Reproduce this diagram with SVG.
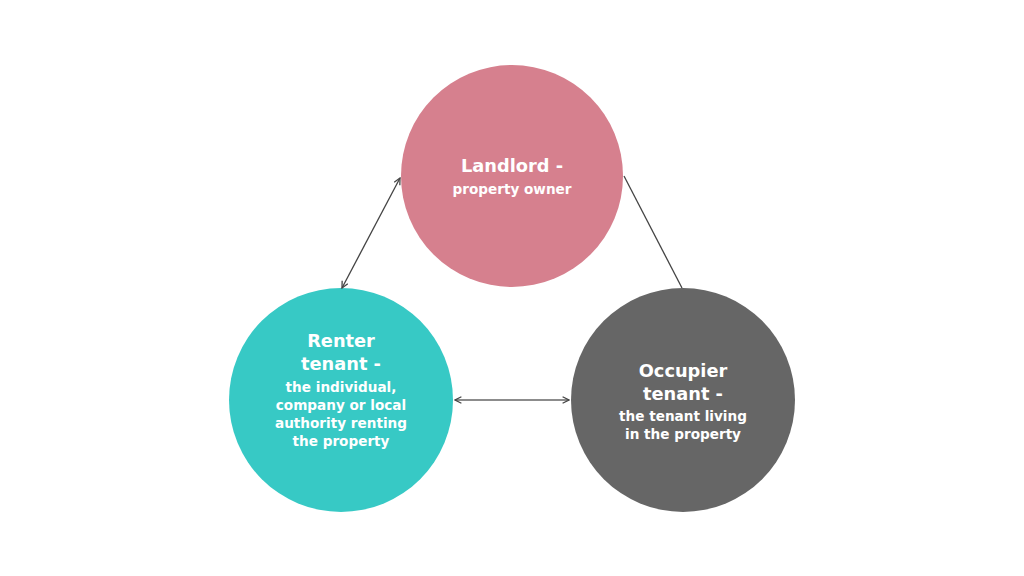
<svg xmlns="http://www.w3.org/2000/svg" width="1024" height="576" viewBox="0 0 1024 576">
<defs>
<marker id="arr" viewBox="0 0 10 10" refX="9" refY="5" markerWidth="8" markerHeight="8" orient="auto-start-reverse" markerUnits="userSpaceOnUse">
<path d="M1,1 L9,5 L1,9" fill="none" stroke="#444" stroke-width="1.6"/>
</marker>
<style>
.t{font-family:"DejaVu Sans","Noto Sans",sans-serif;font-weight:700;fill:#fff;text-anchor:middle}
.h{font-size:17.8px}
.s{font-size:13.6px}
.c{stroke:#444;stroke-width:1.3;fill:none}
</style>
</defs>
<rect width="1024" height="576" fill="#fff"/>
<g id="landlord">
<circle cx="512" cy="176" r="111" fill="#D6808E"/>
<text class="t h" x="512" y="172">Landlord -</text>
<text class="t s" x="512" y="194">property owner</text>
</g>
<g id="renter">
<circle cx="341" cy="400" r="112" fill="#37C9C5"/>
<text class="t h" x="341" y="347">Renter</text>
<text class="t h" x="341" y="370">tenant -</text>
<text class="t s" x="341" y="392">the individual,</text>
<text class="t s" x="341" y="410">company or local</text>
<text class="t s" x="341" y="428">authority renting</text>
<text class="t s" x="341" y="446">the property</text>
</g>
<g id="occupier">
<circle cx="683" cy="400" r="112" fill="#666666"/>
<text class="t h" x="683" y="377">Occupier</text>
<text class="t h" x="683" y="400">tenant -</text>
<text class="t s" x="683" y="421">the tenant living</text>
<text class="t s" x="683" y="439">in the property</text>
</g>
<g id="connectors">
<line class="c" x1="400" y1="178" x2="342" y2="288" marker-start="url(#arr)" marker-end="url(#arr)"/>
<line class="c" x1="455" y1="400" x2="569" y2="400" style="stroke:#666;stroke-width:1.6" marker-start="url(#arr)" marker-end="url(#arr)"/>
<line class="c" x1="624" y1="176" x2="682" y2="288"/>
</g>
</svg>
